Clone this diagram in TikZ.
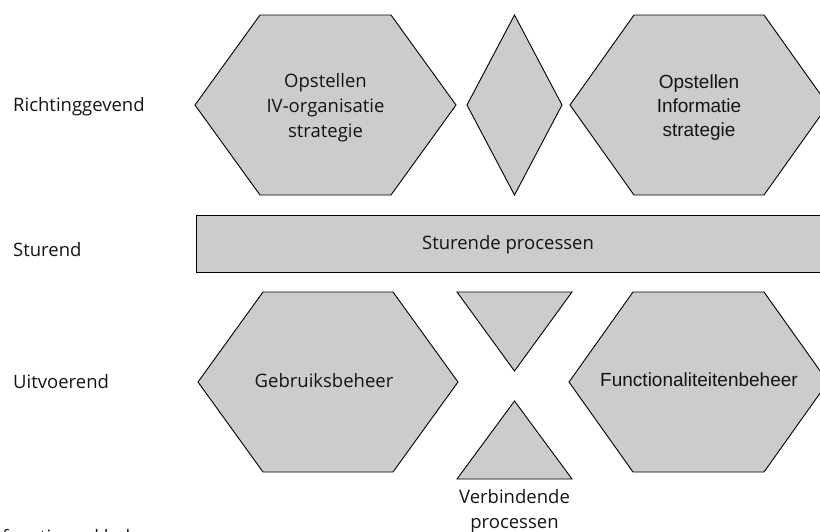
\documentclass[tikz,border=0pt]{standalone}
\usepackage{fontspec}
\setmainfont{Open Sans}
\newfontfamily\arialachtig{Liberation Sans}
\begin{document}
\begin{tikzpicture}[x=1pt,y=-1pt,
  blok/.style={fill=boxgray,draw=black,line width=0.9pt,line join=miter},
  tekst/.style={text=textgray,font=\fontsize{18.5}{25}\selectfont,inner sep=0pt},
  tekstb/.style={text=textgray,font=\arialachtig\fontsize{19}{24}\selectfont,inner sep=0pt},
  rij/.style={tekst,anchor=base west},
  midden/.style={tekst,align=center,anchor=center},
  middenb/.style={tekstb,align=center,anchor=center}]
\definecolor{boxgray}{RGB}{204,204,204}
\definecolor{textgray}{RGB}{20,20,20}
\useasboundingbox (0,0) rectangle (820,531);
\clip (0,0) rectangle (820,531);

% hexagon with centre (#1,#2), half width #3, half top edge #4, half height #5
\def\zeshoek(#1,#2,#3,#4,#5){%
  \filldraw[blok] (#1-#3,#2) -- (#1-#4,#2-#5) -- (#1+#4,#2-#5) -- (#1+#3,#2)
    -- (#1+#4,#2+#5) -- (#1-#4,#2+#5) -- cycle;}

% richtinggevende processen
\zeshoek(325.5,105,130.5,65.5,90)
\zeshoek(699,105,129,65,90)
\filldraw[blok] (514.5,15) -- (562,105) -- (514.5,195) -- (467,105) -- cycle;

% sturende processen
\filldraw[blok] (196,215) rectangle (830,272);

% uitvoerende processen
\zeshoek(328,382,130,65,90)
\zeshoek(698.5,382,129.5,65.5,90)
\filldraw[blok] (457,292) -- (572,292) -- (514.5,371) -- cycle;
\filldraw[blok] (514.5,401) -- (572,479) -- (457,479) -- cycle;

% labels of the levels
\node[rij] (richting) at (13,111) {Richtinggevend};
\node[rij] (sturend) at (13,256) {Sturend};
\node[rij] (uitvoerend) at (13,388) {Uitvoerend};

% process texts
\node[midden] (ivstrat) at (325.5,108) {Opstellen\\IV-organisatie\\strategie};
\node[middenb] (infostrat) at (699,108) {Opstellen\\Informatie\\strategie};
\node[midden] (sturproc) at (508,245) {Sturende processen};
\node[midden] (gebruik) at (324,381) {Gebruiksbeheer};
\node[middenb] (functio) at (699,380) {Functionaliteitenbeheer};
\node[tekst,align=center,anchor=base] (verbind) at (514.5,528) {Verbindende\\processen};

% caption below, partly outside the frame
\node[rij] (titel) at (2,543) {functioneel beheer};
\end{tikzpicture}
\end{document}
